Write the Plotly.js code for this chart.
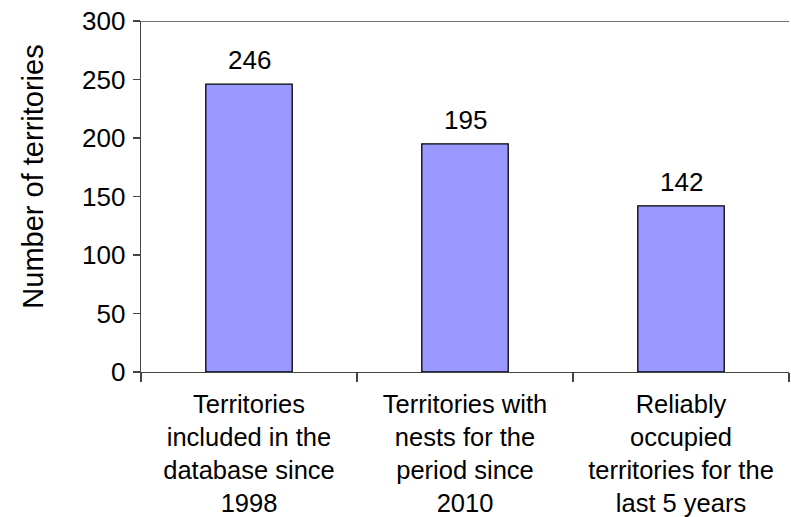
<!DOCTYPE html>
<html>
<head>
<meta charset="utf-8">
<script src="https://cdn.plot.ly/plotly-3.0.1.min.js"></script>
<style>html,body{margin:0;padding:0;background:#fff;}#chart{width:791px;height:517px;}</style>
</head>
<body>
<div id="chart"></div>
<script>
var categories = [
  "Territories<br>included in the<br>database since<br>1998",
  "Territories with<br>nests for the<br>period since<br>2010",
  "Reliably<br>occupied<br>territories for the<br>last 5 years"
];
var values = [246, 195, 142];
var yTickValues = [0, 50, 100, 150, 200, 250, 300];
var yAxisTitle = "Number of territories";

var FONT = "Liberation Sans, Arial, Helvetica, sans-serif";

var trace = {
  type: "bar",
  x: categories,
  y: values,
  width: 0.4,
  marker: {color: "#9999FF", line: {color: "#000000", width: 1.3}},
  hoverinfo: "none"
};

var annotations = categories.map(function (c, i) {
  return {
    x: c, y: values[i], xref: "x", yref: "y",
    text: String(values[i]), showarrow: false,
    yanchor: "bottom", yshift: 7,
    font: {family: FONT, size: 26, color: "#000"}
  };
});
annotations.push({
  xref: "paper", yref: "paper", x: -0.167, y: 0.556,
  xanchor: "center", yanchor: "middle", textangle: -90,
  text: yAxisTitle, showarrow: false,
  font: {family: FONT, size: 29, color: "#000"}
});

var layout = {
  width: 791, height: 517,
  margin: {l: 141, r: 2, t: 21, b: 145},
  paper_bgcolor: "#fff", plot_bgcolor: "#fff",
  showlegend: false,
  font: {family: FONT, color: "#000"},
  xaxis: {
    type: "category",
    showgrid: false, zeroline: false,
    showline: true, linecolor: "#444", linewidth: 1.3,
    ticks: "outside", tickson: "boundaries", ticklen: 9, tickcolor: "#444", tickwidth: 1.3,
    tickfont: {family: FONT, size: 25.5, color: "#000"},
    ticklabelstandoff: 9,
    fixedrange: true
  },
  yaxis: {
    range: [0, 300],
    tickvals: yTickValues,
    showgrid: false, zeroline: false,
    showline: true, linecolor: "#444", linewidth: 1.3,
    ticks: "outside", ticklen: 7, tickcolor: "#444", tickwidth: 1.3,
    tickfont: {family: FONT, size: 26, color: "#000"},
    ticklabelstandoff: 2,
    automargin: false,
    fixedrange: true
  },
  shapes: [{
    type: "line", xref: "paper", yref: "y", x0: 0, x1: 1, y0: 300, y1: 300,
    line: {color: "#444", width: 1.3}
  }],
  annotations: annotations
};

Plotly.newPlot("chart", [trace], layout, {displayModeBar: false, staticPlot: true});
</script>
</body>
</html>
